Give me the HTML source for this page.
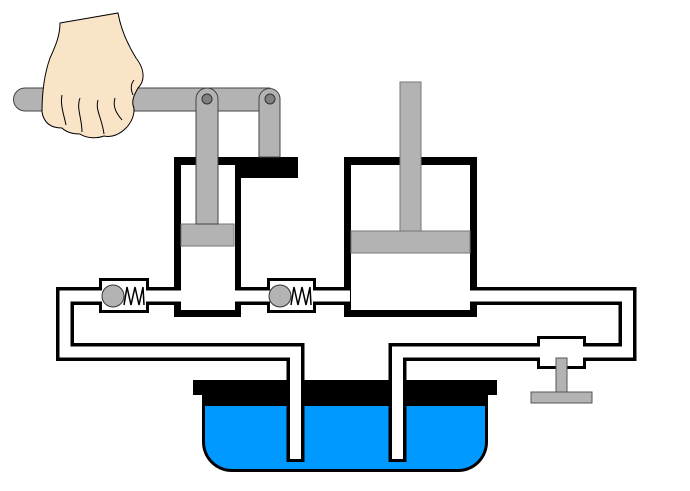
<!DOCTYPE html>
<html><head><meta charset="utf-8"><style>html,body{margin:0;padding:0;background:#fff}svg{display:block}</style></head>
<body>
<svg width="690" height="491" viewBox="0 0 690 491" xmlns="http://www.w3.org/2000/svg">
<!-- tank -->
<rect x="193" y="380" width="304" height="15" fill="#000"/>
<path d="M202 380 H488 V442 A30 30 0 0 1 458 472 H232 A30 30 0 0 1 202 442 Z" fill="#000"/>
<path d="M205 406 H485 V442 A27 27 0 0 1 458 469 H232 A27 27 0 0 1 205 442 Z" fill="#0099ff"/>
<!-- pipes black -->
<g fill="none" stroke="#000" stroke-width="18" stroke-linejoin="miter">
<path d="M180 296 H65 V352 H295.5 V462"/>
<path d="M470 296 H627.5 V352 H397.5 V462"/>
<path d="M170 296 H350"/>
</g>
<!-- cylinders black -->
<rect x="174" y="157" width="67" height="160" fill="#000"/>
<rect x="235" y="157" width="63" height="21" fill="#000"/>
<rect x="344" y="157" width="133" height="160" fill="#000"/>
<!-- valve boxes black -->
<rect x="99" y="278" width="50" height="35" fill="#000"/>
<rect x="267" y="278" width="49" height="35" fill="#000"/>
<rect x="537" y="336" width="49" height="33" fill="#000"/>
<!-- pipes white -->
<g fill="none" stroke="#fff" stroke-width="11" stroke-linejoin="miter">
<path d="M180 296 H65 V352 H295.5 V459"/>
<path d="M470 296 H627.5 V352 H397.5 V459"/>
<path d="M170 296 H350"/>
</g>
<rect x="181" y="165" width="54" height="145" fill="#fff"/>
<rect x="351" y="165" width="119" height="145" fill="#fff"/>
<rect x="102" y="281" width="44" height="29" fill="#fff"/>
<rect x="270" y="281" width="43" height="29" fill="#fff"/>
<rect x="540" y="339" width="43" height="27" fill="#fff"/>
<!-- balls and springs -->
<circle cx="113" cy="296" r="11" fill="#b3b3b3" stroke="#333" stroke-width="1"/>
<polyline points="124,305 127,287 131,305 135,287 139,305 143,287 144,305" fill="none" stroke="#000" stroke-width="1.5"/>
<circle cx="280" cy="296" r="11" fill="#b3b3b3" stroke="#333" stroke-width="1"/>
<polyline points="291,305 294,287 298,305 302,287 306,305 310,287 311,305" fill="none" stroke="#000" stroke-width="1.5"/>
<!-- release valve stem -->
<rect x="556" y="358" width="11" height="35" fill="#b3b3b3" stroke="#555" stroke-width="1"/>
<rect x="531" y="392" width="61" height="11" fill="#b3b3b3" stroke="#555" stroke-width="1"/>
<!-- pistons -->
<rect x="181" y="224" width="53" height="22" fill="#b3b3b3" stroke="#777" stroke-width="1"/>
<rect x="351" y="231" width="119" height="22" fill="#b3b3b3" stroke="#777" stroke-width="1"/>
<rect x="400" y="82" width="21" height="149" fill="#b3b3b3" stroke="#777" stroke-width="1"/>
<!-- lever -->
<path d="M25 88 H270 V111 H25 A11.5 11.5 0 0 1 25 88 Z" fill="#b3b3b3" stroke="#444" stroke-width="1"/>
<path d="M196 224 V99 A11 11 0 0 1 218 99 V224 Z" fill="#b3b3b3" stroke="#444" stroke-width="1"/>
<path d="M259 157 V99 A10.5 10.5 0 0 1 280 99 V157 Z" fill="#b3b3b3" stroke="#444" stroke-width="1"/>
<circle cx="207" cy="99" r="5" fill="#808080" stroke="#333" stroke-width="1"/>
<circle cx="270" cy="99" r="5" fill="#808080" stroke="#333" stroke-width="1"/>
<!-- hand -->
<path d="M60 23 L118 13 C121 30 128 45 136 58 C144 68 146 80 138 88 C134 95 132 100 133 105 C136 112 132 122 126 128 C120 134 112 138 104 136 C96 139 86 138 80 134 C72 134 66 132 62 128 C52 128 44 124 42 112 C42 95 44 75 50 58 C56 45 60 35 60 23 Z" fill="#f9e4c8" stroke="#000" stroke-width="1"/>
<g fill="none" stroke="#000" stroke-width="1">
<path d="M62 95 C60 105 64 115 66 125"/>
<path d="M80 98 C76 108 82 118 82 132"/>
<path d="M98 100 C95 110 102 118 104 134"/>
<path d="M115 98 C112 108 118 115 122 120"/>
<path d="M134 80 C130 85 131 90 133 95"/>
</g>
</svg>
</body></html>
